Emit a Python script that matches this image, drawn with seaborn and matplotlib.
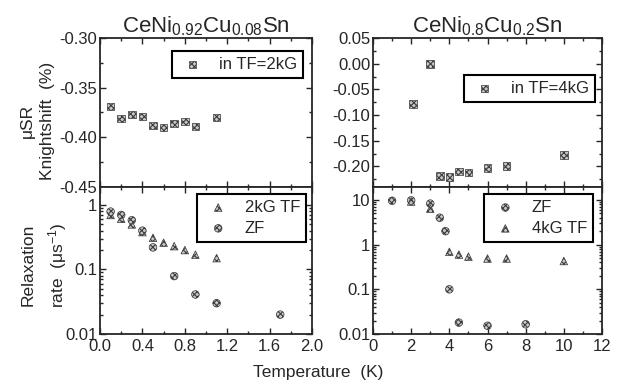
import seaborn as sns
import matplotlib
matplotlib.use('Agg')
import matplotlib.pyplot as plt
from matplotlib.ticker import MultipleLocator, LogLocator, NullFormatter

# CeNi0.92Cu0.08Sn : knight shift in TF=2kG
t_ks1 = [0.1, 0.2, 0.3, 0.4, 0.5, 0.6, 0.7, 0.8, 0.9, 1.1]
ks1 = [-0.369, -0.381, -0.377, -0.379, -0.388, -0.390, -0.386, -0.384, -0.389, -0.380]

# CeNi0.92Cu0.08Sn : relaxation rates
t_tf1 = [0.1, 0.2, 0.3, 0.4, 0.5, 0.6, 0.7, 0.8, 0.9, 1.1]
tf1 = [0.70, 0.61, 0.50, 0.38, 0.31, 0.26, 0.23, 0.20, 0.17, 0.15]
t_zf1 = [0.1, 0.2, 0.3, 0.4, 0.5, 0.7, 0.9, 1.1, 1.7]
zf1 = [0.79, 0.70, 0.58, 0.40, 0.22, 0.079, 0.041, 0.030, 0.020]

# CeNi0.8Cu0.2Sn : knight shift in TF=4kG
t_ks2 = [2.1, 3.0, 3.5, 4.0, 4.5, 5.0, 6.0, 7.0, 10.0]
ks2 = [-0.078, -0.001, -0.218, -0.220, -0.210, -0.212, -0.203, -0.199, -0.178]

# CeNi0.8Cu0.2Sn : relaxation rates
t_zf2 = [1.0, 2.0, 3.0, 3.5, 3.8, 4.0, 4.5, 6.0, 8.0]
zf2 = [9.6, 9.8, 8.3, 4.0, 2.0, 0.10, 0.018, 0.0153, 0.0165]
t_tf2 = [2.0, 3.0, 4.0, 4.5, 5.0, 6.0, 7.0, 10.0]
tf2 = [9.2, 6.4, 0.69, 0.60, 0.54, 0.49, 0.49, 0.43]

sns.set_style('ticks')
plt.rcParams['font.family'] = ['Liberation Sans', 'DejaVu Sans']
plt.rcParams['mathtext.default'] = 'regular'
plt.rcParams['axes.linewidth'] = 1.3
plt.rcParams['hatch.linewidth'] = 0.8

fig = plt.figure(figsize=(6.35, 3.85), dpi=100)
L = 100 / 635
W_l = 212 / 635
R = 373 / 635
W_r = 229 / 635
y_top = 1 - 187 / 385
h_top = (187 - 38) / 385
y_bot = 1 - 334 / 385
h_bot = (334 - 187) / 385

ax1 = fig.add_axes([L, y_top, W_l, h_top])
ax2 = fig.add_axes([L, y_bot, W_l, h_bot])
ax3 = fig.add_axes([R, y_top, W_r, h_top])
ax4 = fig.add_axes([R, y_bot, W_r, h_bot])

mk = dict(facecolor='#c8c8c8', edgecolor='#3c3c3c', hatch='xxxxxx', linewidth=0.5, s=30)

sns.scatterplot(x=t_ks1, y=ks1, marker='s', ax=ax1, label='in TF=2kG', **mk)
sns.scatterplot(x=t_tf1, y=tf1, marker='^', ax=ax2, label='2kG TF', **mk)
sns.scatterplot(x=t_zf1, y=zf1, marker='o', ax=ax2, label='ZF', **mk)
sns.scatterplot(x=t_ks2, y=ks2, marker='s', ax=ax3, label='in TF=4kG', **mk)
sns.scatterplot(x=t_zf2, y=zf2, marker='o', ax=ax4, label='ZF', **mk)
sns.scatterplot(x=t_tf2, y=tf2, marker='^', ax=ax4, label='4kG TF', **mk)

for ax in (ax1, ax2):
    ax.set_xlim(0, 2.0)
    ax.xaxis.set_major_locator(MultipleLocator(0.4))
    ax.xaxis.set_minor_locator(MultipleLocator(0.2))
for ax in (ax3, ax4):
    ax.set_xlim(0, 12)
    ax.xaxis.set_major_locator(MultipleLocator(2))
    ax.xaxis.set_minor_locator(MultipleLocator(1))

ax1.set_ylim(-0.45, -0.30)
ax1.yaxis.set_major_locator(MultipleLocator(0.05))
ax1.yaxis.set_minor_locator(MultipleLocator(0.025))
ax1.yaxis.set_major_formatter(plt.FormatStrFormatter('%.2f'))
ax3.set_ylim(-0.24, 0.05)
ax3.yaxis.set_major_locator(MultipleLocator(0.05))
ax3.yaxis.set_minor_locator(MultipleLocator(0.025))
ax3.yaxis.set_major_formatter(plt.FormatStrFormatter('%.2f'))

ax2.set_yscale('log')
ax2.set_ylim(0.01, 1.9)
ax2.set_yticks([0.01, 0.1, 1])
ax2.set_yticklabels(['0.01', '0.1', '1'])
ax4.set_yscale('log')
ax4.set_ylim(0.01, 19.5)
ax4.set_yticks([0.01, 0.1, 1, 10])
ax4.set_yticklabels(['0.01', '0.1', '1', '10'])
for ax in (ax2, ax4):
    ax.yaxis.set_minor_locator(LogLocator(base=10, subs=range(2, 10)))
    ax.yaxis.set_minor_formatter(NullFormatter())

for ax in (ax1, ax2, ax3, ax4):
    ax.tick_params(which='both', direction='in', top=True, right=True,
                   labelsize=12, width=1.0, pad=2)
    ax.tick_params(which='major', length=4)
    ax.tick_params(which='minor', length=2)
    ax.tick_params(axis='x', which='major', pad=3.5)
for ax in (ax1, ax3):
    ax.tick_params(labelbottom=False)

leg_kw = dict(frameon=True, fancybox=False, framealpha=1, edgecolor='black',
              fontsize=12, handletextpad=0.7, borderpad=0.35, handlelength=1.8,
              borderaxespad=0, labelspacing=0.35)
lg = ax1.legend(loc='upper right', bbox_to_anchor=(0.958, 0.913), **leg_kw)
lg3 = ax3.legend(loc='upper right', bbox_to_anchor=(0.969, 0.752), **leg_kw)
lg2 = ax2.legend(loc='upper right', bbox_to_anchor=(0.972, 0.952), **leg_kw)
lg4 = ax4.legend(loc='upper right', bbox_to_anchor=(0.961, 0.952), **leg_kw)
for l in (lg, lg2, lg3, lg4):
    l.get_frame().set_linewidth(1.5)

ax1.set_title(r'CeNi$_{0.92}$Cu$_{0.08}$Sn', fontsize=16, pad=4)
ax3.set_title(r'CeNi$_{0.8}$Cu$_{0.2}$Sn', fontsize=16, pad=4)

ax1.set_ylabel('\u03bcSR\nKnightshift  (%)', fontsize=12.5, linespacing=1.45)
ax2.set_ylabel('Relaxation\nrate  (\u03bcs$^{-1}$)', fontsize=12.5, linespacing=1.6)
ax1.yaxis.set_label_coords(-0.21, 0.443)
ax2.yaxis.set_label_coords(-0.145, 0.47)

fig.text(318 / 635, 1 - 373 / 385, 'Temperature  (K)', ha='center', va='center', fontsize=12.5)

fig.savefig('out.png', dpi=100)
